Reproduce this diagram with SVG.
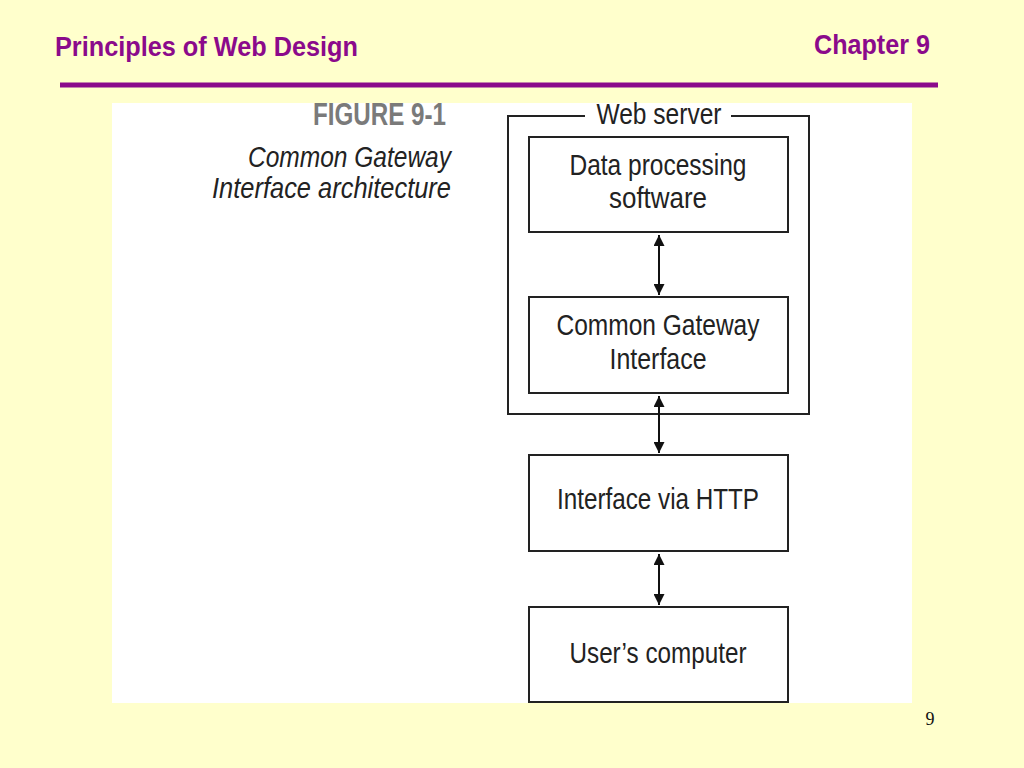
<svg xmlns="http://www.w3.org/2000/svg" width="1024" height="768" viewBox="0 0 1024 768">
<defs>
<style>
.hdr{font-family:"Liberation Sans Narrow","Liberation Sans",Arial,sans-serif;font-weight:bold;font-size:27px;fill:#8B0A8B}
.lbl{font-family:"Liberation Sans Narrow","Liberation Sans",Arial,sans-serif;font-size:29px;fill:#222}
.box{fill:#fff;stroke:#222;stroke-width:2}
.con{stroke:#111;stroke-width:2;fill:none;marker-start:url(#ah);marker-end:url(#ah)}
</style>
<marker id="ah" viewBox="0 0 10 10" refX="10" refY="5" markerWidth="6" markerHeight="5.5" orient="auto-start-reverse" markerUnits="strokeWidth">
<path d="M0,0 L10,5 L0,10 z" fill="#111"/>
</marker>
</defs>
<rect x="0" y="0" width="1024" height="768" fill="#FFFFCC"/>
<text class="hdr" x="55" y="56" textLength="303" lengthAdjust="spacingAndGlyphs">Principles of Web Design</text>
<text class="hdr" x="930" y="54" text-anchor="end" textLength="116" lengthAdjust="spacingAndGlyphs">Chapter 9</text>
<line x1="60" y1="85" x2="938" y2="85" stroke="#8B0A8B" stroke-width="5"/>
<rect x="112" y="103" width="800" height="600" fill="#fff"/>
<text x="446" y="125" text-anchor="end" textLength="133" lengthAdjust="spacingAndGlyphs" style="font-family:'Liberation Sans Narrow','Liberation Sans',Arial,sans-serif;font-weight:bold;font-size:31px;fill:#7a7a7a">FIGURE 9-1</text>
<text class="lbl" x="451" y="167" text-anchor="end" textLength="203" lengthAdjust="spacingAndGlyphs" font-style="italic">Common Gateway</text>
<text class="lbl" x="451" y="198" text-anchor="end" textLength="239" lengthAdjust="spacingAndGlyphs" font-style="italic">Interface architecture</text>
<g id="webserver">
<path d="M585,116 L508,116 L508,414 L809,414 L809,116 L731,116" fill="none" stroke="#222" stroke-width="2"/>
<text class="lbl" x="659" y="124" text-anchor="middle" textLength="125" lengthAdjust="spacingAndGlyphs">Web server</text>
</g>
<g id="dataproc">
<rect class="box" x="529" y="137" width="259" height="95"/>
<text class="lbl" x="658" y="175" text-anchor="middle" textLength="177" lengthAdjust="spacingAndGlyphs">Data processing</text>
<text class="lbl" x="658" y="208" text-anchor="middle" textLength="98" lengthAdjust="spacingAndGlyphs">software</text>
</g>
<g id="cgi">
<rect class="box" x="529" y="297" width="259" height="96"/>
<text class="lbl" x="658" y="335" text-anchor="middle" textLength="203" lengthAdjust="spacingAndGlyphs">Common Gateway</text>
<text class="lbl" x="658" y="369" text-anchor="middle" textLength="97" lengthAdjust="spacingAndGlyphs">Interface</text>
</g>
<g id="http">
<rect class="box" x="529" y="455" width="259" height="96"/>
<text class="lbl" x="658" y="509" text-anchor="middle" textLength="202" lengthAdjust="spacingAndGlyphs">Interface via HTTP</text>
</g>
<g id="user">
<rect class="box" x="529" y="607" width="259" height="95"/>
<text class="lbl" x="658" y="663" text-anchor="middle" textLength="177" lengthAdjust="spacingAndGlyphs">User’s computer</text>
</g>
<g id="connectors">
<line class="con" x1="659" y1="235" x2="659" y2="295"/>
<line class="con" x1="659" y1="396" x2="659" y2="453"/>
<line class="con" x1="659" y1="554" x2="659" y2="605"/>
</g>
<text x="930" y="725" text-anchor="middle" style="font-family:'Liberation Serif','Times New Roman',serif;font-size:18px;fill:#111">9</text>
</svg>
